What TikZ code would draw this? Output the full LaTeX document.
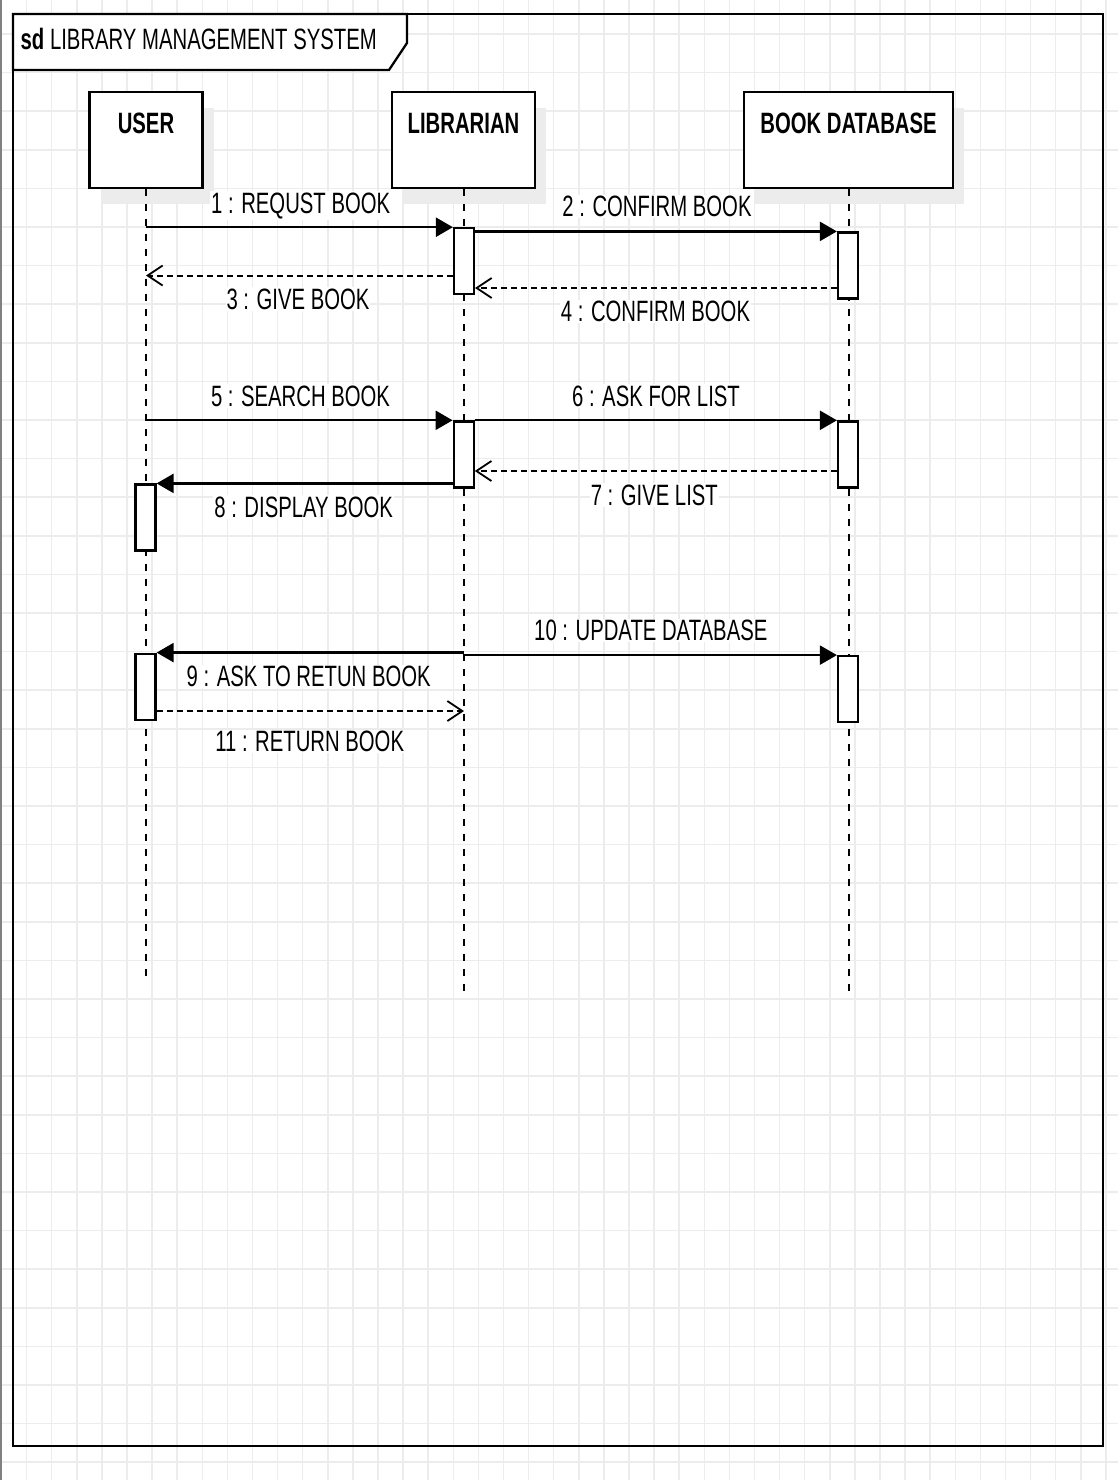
\documentclass[tikz,border=0pt]{standalone}
\usepackage{fontspec}
\setmainfont{Liberation Sans}
\usetikzlibrary{arrows.meta,shadows}

\definecolor{gridgray}{RGB}{236,236,236}
\definecolor{shadowgray}{RGB}{236,236,236}

\tikzset{
  head/.style={draw, line width=2.2pt, fill=white, minimum height=95.5pt, inner sep=0pt,
    drop shadow={shadow xshift=11pt, shadow yshift=-16pt, fill=shadowgray, opacity=1}},
  act/.style={draw, line width=2.2pt, fill=white, minimum width=20pt, minimum height=66pt, inner sep=0pt},
  txt/.style={font=\fontsize{20.3}{24}\selectfont, yscale=1.45, inner sep=1pt, anchor=base},
  headtxt/.style={txt, font=\fontsize{20.3}{24}\selectfont\bfseries},
  lbl/.style={txt, fill=white},
  life/.style={line width=2pt, dash pattern=on 7pt off 8pt},
  call/.style={line width=2.3pt, -{Triangle[length=17pt,width=19pt]}},
  reply/.style={line width=2pt, dash pattern=on 6pt off 4pt,
    -{Straight Barb[length=15pt,width=20pt,line width=1.8pt]}},
}

\begin{document}
\begin{tikzpicture}[x=1pt, y=-1pt]
  \useasboundingbox (0,0) rectangle (1118,1480);
  \fill[white] (0,0) rectangle (1118,1480);

  % grid
  \foreach \i in {0,...,44}
    \draw[gridgray, line width=1.5pt] ({1.5+25.1*\i},0) -- ++(0,1480);
  \foreach \j in {0,...,38}
    \draw[gridgray, line width=1.5pt] (0,{-4.6+38.6*\j}) -- ++(1118,0);
  \draw[gray, line width=1.5pt] (0.75,0) -- (0.75,1480);

  % frame
  \draw[line width=2.3pt] (13,14) rectangle (1103,1446);
  \filldraw[fill=white, line width=2.3pt] (13,14) -- (407,14) -- (407,43) -- (389,70) -- (13,70) -- cycle;
  \node[txt, anchor=base west] (title) at (19.5,50) {\textbf{sd} LIBRARY MANAGEMENT SYSTEM};

  % lifeline heads
  \node[head, minimum width=113pt] (user) at (146,140) {};
  \node[head, minimum width=143pt] (librarian) at (463.5,140) {};
  \node[head, minimum width=209pt] (bookdb) at (848.5,140) {};
  \node[headtxt] (usertxt) at (146,133) {USER};
  \node[headtxt] (librariantxt) at (463.5,133) {LIBRARIAN};
  \node[headtxt] (bookdbtxt) at (848.5,133) {BOOK DATABASE};

  \coordinate (userend) at (146,982);
  \coordinate (librarianend) at (464,997);
  \coordinate (bookdbend) at (849,997);
  \draw[life] (user.south) -- (userend);
  \draw[life] (librarian.south -| librarianend) -- (librarianend);
  \draw[life] (bookdb.south -| bookdbend) -- (bookdbend);

  % activations
  \node[act] (actL1) at (464,261.3) {};
  \node[act] (actD1) at (848,265.5) {};
  \node[act] (actL2) at (463.7,454.4) {};
  \node[act] (actD2) at (848,454.4) {};
  \node[act] (actU1) at (145.5,517.5) {};
  \node[act] (actU2) at (145.5,686.7) {};
  \node[act] (actD3) at (848,689.2) {};

  \coordinate (m3) at (0,275.5);
  \coordinate (m4) at (0,288);
  \coordinate (m7) at (0,471);
  \coordinate (m11) at (0,711);

  % messages
  \draw[call] (actL1.north west -| user) -- (actL1.north west);
  \draw[call] (actL1.east |- actD1.north west) -- (actD1.north west);
  \draw[reply] (actL1.west |- m3) -- (user |- m3);
  \draw[reply] (actD1.west |- m4) -- (actL1.east |- m4);
  \draw[call] (actL2.north west -| user) -- (actL2.north west);
  \draw[call] (actL2.north east) -- (actD2.north west);
  \draw[reply] (actD2.west |- m7) -- (actL2.east |- m7);
  \draw[call] (actL2.west |- actU1.north) -- (actU1.north east);
  \draw[call] (librarianend |- actU2.north) -- (actU2.north east);
  \draw[call] (librarianend |- actD3.north) -- (actD3.north west);
  \draw[reply] (actU2.east |- m11) -- (librarianend |- m11);

  % labels
  \node[lbl] (l1) at (300.7,213) {1 : REQUST BOOK};
  \node[lbl] (l2) at (657,216.7) {2 : CONFIRM BOOK};
  \node[lbl] (l3) at (298,309.3) {3 : GIVE BOOK};
  \node[lbl] (l4) at (655.5,321.7) {4 : CONFIRM BOOK};
  \node[lbl] (l5) at (300.5,406) {5 : SEARCH BOOK};
  \node[lbl] (l6) at (656,406) {6 : ASK FOR LIST};
  \node[lbl] (l7) at (654.3,505) {7 : GIVE LIST};
  \node[lbl] (l8) at (303.7,517.3) {8 : DISPLAY BOOK};
  \node[lbl] (l9) at (308.7,686.7) {9 : ASK TO RETUN BOOK};
  \node[lbl] (l10) at (650.8,640.7) {10 : UPDATE DATABASE};
  \node[lbl] (l11) at (309.7,751.7) {11 : RETURN BOOK};
\end{tikzpicture}
\end{document}
